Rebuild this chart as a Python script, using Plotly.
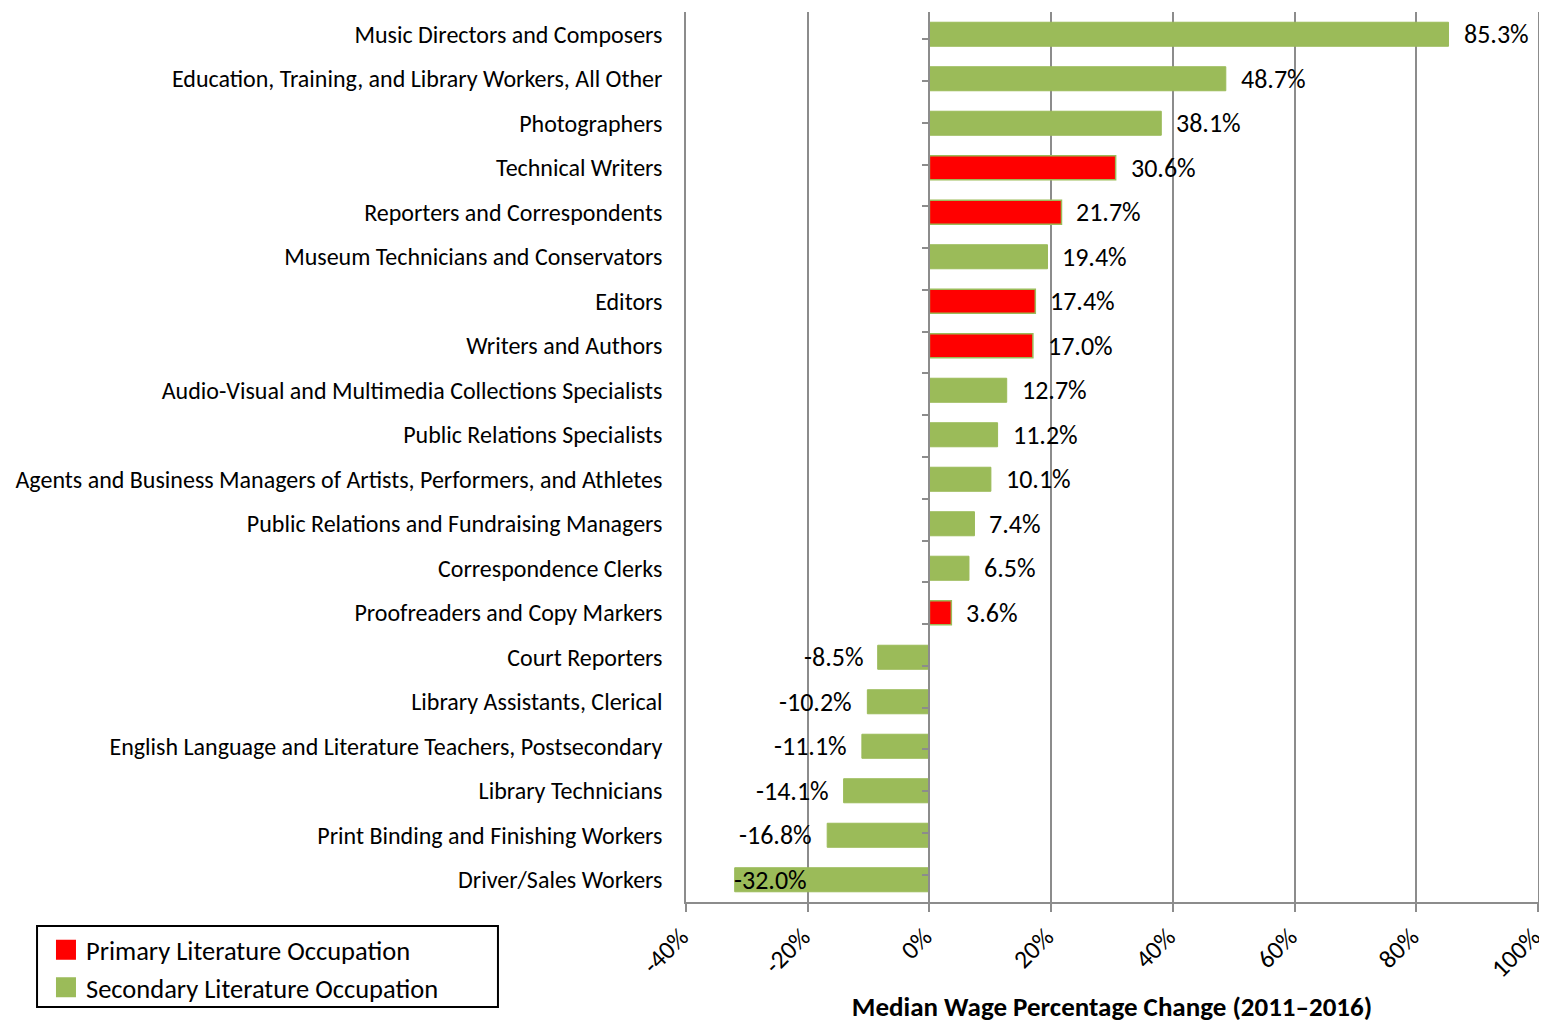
import plotly.graph_objects as go

occupations = [
    "Music Directors and Composers",
    "Education, Training, and Library Workers, All Other",
    "Photographers",
    "Technical Writers",
    "Reporters and Correspondents",
    "Museum Technicians and Conservators",
    "Editors",
    "Writers and Authors",
    "Audio-Visual and Multimedia Collections Specialists",
    "Public Relations Specialists",
    "Agents and Business Managers of Artists, Performers, and Athletes",
    "Public Relations and Fundraising Managers",
    "Correspondence Clerks",
    "Proofreaders and Copy Markers",
    "Court Reporters",
    "Library Assistants, Clerical",
    "English Language and Literature Teachers, Postsecondary",
    "Library Technicians",
    "Print Binding and Finishing Workers",
    "Driver/Sales Workers",
]
wage_change = [85.3, 48.7, 38.1, 30.6, 21.7, 19.4, 17.4, 17.0, 12.7, 11.2,
               10.1, 7.4, 6.5, 3.6, -8.5, -10.2, -11.1, -14.1, -16.8, -32.0]
is_primary = [False, False, False, True, True, False, True, True, False, False,
              False, False, False, True, False, False, False, False, False, False]

x_ticks = [-40, -20, 0, 20, 40, 60, 80, 100]
x_tick_labels = ["-40%", "-20%", "0%", "20%", "40%", "60%", "80%", "100%"]

FONT = "Calibri, Carlito, Lato, sans-serif"
RED = "#FF0000"
GREEN = "#9BBB59"
GRID = "#8C8C8C"

prim_y = [o for o, p in zip(occupations, is_primary) if p]
prim_x = [v for v, p in zip(wage_change, is_primary) if p]
sec_y = [o for o, p in zip(occupations, is_primary) if not p]
sec_x = [v for v, p in zip(wage_change, is_primary) if not p]

fig = go.Figure()
fig.add_trace(go.Bar(
    y=prim_y, x=prim_x, orientation="h", showlegend=False,
    marker=dict(color=RED, line=dict(color=GREEN, width=1.5)),
))
fig.add_trace(go.Bar(
    y=sec_y, x=sec_x, orientation="h", showlegend=False,
    marker=dict(color=GREEN, line=dict(color=GREEN, width=1)),
))
# legend entries with big square swatches
for nm, col in [("Primary Literature Occupation", RED),
                ("Secondary Literature Occupation", GREEN)]:
    fig.add_trace(go.Scatter(
        x=[None], y=[None], mode="markers", name=nm,
        marker=dict(symbol="square", size=16, color=col,
                    line=dict(color=col, width=4)),
    ))
# invisible trace to carry the category axis drawn at x = 0
fig.add_trace(go.Scatter(
    y=occupations, x=[0] * len(occupations), yaxis="y2", mode="markers",
    marker=dict(opacity=0), showlegend=False, hoverinfo="skip",
))

# data labels
for occ, val in zip(occupations, wage_change):
    txt = f"{val:.1f}%"
    if val >= 0:
        anchor, shift = "left", 13
    elif val < -25:
        anchor, shift = "left", -3
    else:
        anchor, shift = "right", -13
    fig.add_annotation(x=val, y=occ, text=txt, showarrow=False,
                       xanchor=anchor, xshift=shift,
                       font=dict(family=FONT, size=26, color="black"))

# legend frame
fig.add_shape(type="rect", xref="paper", yref="paper",
              x0=-0.7617, x1=-0.2207, y0=-0.118, y1=-0.027,
              line=dict(color="black", width=2), fillcolor="rgba(0,0,0,0)")

fig.update_layout(
    width=1539, height=1015,
    margin=dict(l=678, r=9, t=4, b=121),
    paper_bgcolor="white", plot_bgcolor="white",
    barmode="overlay", bargap=0.46,
    font=dict(family=FONT, size=24, color="black"),
    showlegend=True,
    legend=dict(
        x=-0.7512, y=-0.027, xanchor="left", yanchor="top",
        borderwidth=0, bgcolor="rgba(0,0,0,0)",
        font=dict(family=FONT, size=26.5, color="black"),
        traceorder="normal", itemsizing="trace", tracegroupgap=0,
    ),
    xaxis=dict(
        range=[-40, 100.001], tickvals=x_ticks, ticktext=x_tick_labels,
        tickangle=-45, showgrid=True, gridcolor=GRID, gridwidth=1.5,
        zeroline=False, showline=True, linecolor=GRID, linewidth=1.5,
        ticks="outside", ticklen=8, tickcolor=GRID, tickwidth=1.5,
        tickfont=dict(family=FONT, size=25.5), ticklabeloverflow="allow",
        ticklabelshift=-5,
        title=dict(text="<b>Median Wage Percentage Change (2011\u20132016)</b>",
                   font=dict(family=FONT, size=27), standoff=22),
        automargin=False,
    ),
    yaxis=dict(
        categoryorder="array", categoryarray=occupations[::-1],
        showgrid=False, zeroline=False, ticks="",
        showline=True, mirror=True, linecolor=GRID, linewidth=1.5,
        ticklabelstandoff=17, tickfont=dict(family=FONT, size=24),
        automargin=False,
    ),
    yaxis2=dict(
        overlaying="y", anchor="free", position=40 / 140, side="left",
        categoryorder="array", categoryarray=occupations[::-1],
        showgrid=False, zeroline=False, showticklabels=False,
        showline=True, linecolor=GRID, linewidth=1.5,
        ticks="outside", tickson="boundaries", ticklen=7,
        tickcolor=GRID, tickwidth=1.5,
    ),
)

fig.write_html("out.html")
